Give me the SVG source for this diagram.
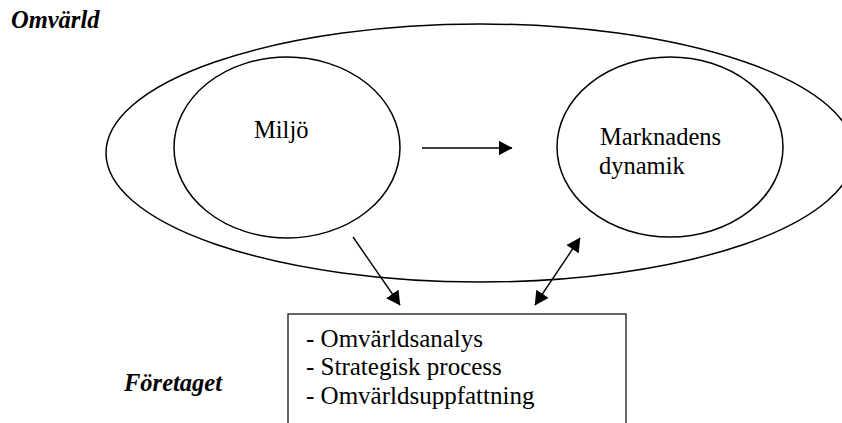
<svg xmlns="http://www.w3.org/2000/svg" width="842" height="423" viewBox="0 0 842 423">
  <style>
    .shape { fill: none; stroke: #000; stroke-width: 1.5; }
    .box { fill: #fff; stroke: #000; stroke-width: 1.2; }
    .link { fill: none; stroke: #000; stroke-width: 1.4; }
    .label { font-family: "Liberation Serif", "Times New Roman", serif; font-size: 24.5px; fill: #000; }
    .item { font-family: "Liberation Serif", "Times New Roman", serif; font-size: 25px; fill: #000; }
    .title { font-family: "Liberation Serif", "Times New Roman", serif; font-size: 24.5px; font-weight: bold; font-style: italic; fill: #000; }
  </style>
  <defs>
    <marker id="head" viewBox="0 0 14 15" markerWidth="14" markerHeight="15" refX="13.5" refY="7.5" orient="auto-start-reverse" markerUnits="userSpaceOnUse">
      <path d="M0,0 L14,7.5 L0,15 z" fill="#000"/>
    </marker>
  </defs>

  <rect width="842" height="423" fill="#fff"/>

  <g id="omvarld">
    <ellipse class="shape" cx="480" cy="153" rx="374" ry="129"/>
    <text class="title" x="11" y="28">Omvärld</text>
  </g>

  <g id="miljo">
    <ellipse class="shape" cx="287" cy="147.5" rx="113" ry="90.5"/>
    <text class="label" x="254" y="138">Miljö</text>
  </g>

  <g id="marknadens-dynamik">
    <ellipse class="shape" cx="670" cy="147" rx="113" ry="90"/>
    <text class="label" x="600" y="145">Marknadens</text>
    <text class="label" x="599" y="174">dynamik</text>
  </g>

  <g id="foretaget">
    <rect class="box" x="288" y="314" width="338" height="120"/>
    <text class="item" x="306" y="347">- Omvärldsanalys</text>
    <text class="item" x="306" y="375">- Strategisk process</text>
    <text class="item" x="306" y="404">- Omvärldsuppfattning</text>
    <text class="title" x="124" y="391">Företaget</text>
  </g>

  <g id="connectors">
    <line class="link" x1="422" y1="148" x2="512" y2="148" marker-end="url(#head)"/>
    <line class="link" x1="353" y1="237" x2="400" y2="305" marker-end="url(#head)"/>
    <line class="link" x1="535" y1="305" x2="580" y2="238" marker-start="url(#head)" marker-end="url(#head)"/>
  </g>
</svg>
